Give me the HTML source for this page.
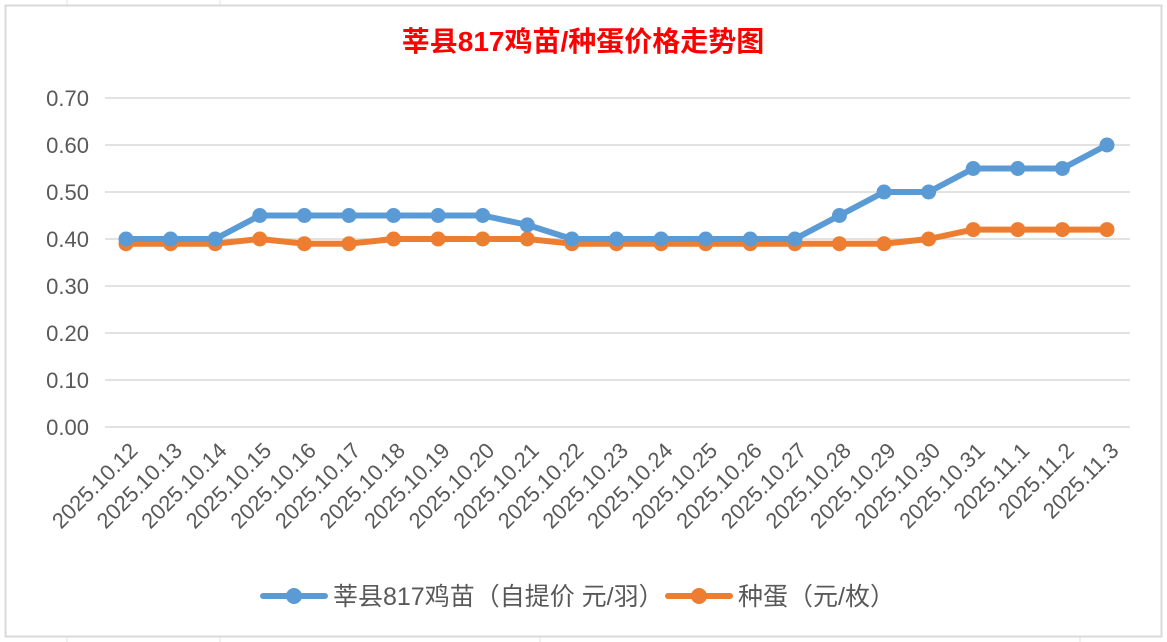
<!DOCTYPE html>
<html><head><meta charset="utf-8"><style>body{margin:0;background:#fff}svg{display:block}</style></head><body>
<svg width="1167" height="642" xmlns="http://www.w3.org/2000/svg" font-family="Liberation Sans, Noto Sans CJK SC, sans-serif">
<rect width="1167" height="642" fill="#fff"/>
<g stroke="#e2e2e2" stroke-width="1">
<line x1="67" y1="0" x2="67" y2="5"/><line x1="220" y1="0" x2="220" y2="5"/><line x1="67" y1="637" x2="67" y2="642"/><line x1="220" y1="637" x2="220" y2="642"/><line x1="540" y1="637" x2="540" y2="642"/><line x1="1080" y1="637" x2="1080" y2="642"/>
</g>
<rect x="5.5" y="5.5" width="1156" height="631" fill="#fff" stroke="#d9d9d9" stroke-width="2"/>
<text x="583" y="51" text-anchor="middle" fill="#ff0000" font-size="28" font-weight="bold">莘县817鸡苗/种蛋价格走势图</text>
<g id="grid" stroke="#d9d9d9" stroke-width="1.5"></g>
<g id="yl" fill="#595959" font-size="22" text-anchor="end"></g>
<g id="xl" fill="#595959" font-size="22" text-anchor="end"></g>
<g id="s"></g>
<g font-size="25" fill="#595959">
<line x1="263" y1="596" x2="325" y2="596" stroke="#5b9bd5" stroke-width="6" stroke-linecap="round"/>
<circle cx="294" cy="596" r="8" fill="#5b9bd5"/>
<text x="333" y="605">莘县817鸡苗（自提价 元/羽）</text>
<line x1="668" y1="596" x2="730" y2="596" stroke="#ed7d31" stroke-width="6" stroke-linecap="round"/>
<circle cx="699" cy="596" r="8" fill="#ed7d31"/>
<text x="738" y="605">种蛋（元/枚）</text>
</g>
<script>
var ns="http://www.w3.org/2000/svg";
function el(p,t,a,tx){var e=document.createElementNS(ns,t);for(var k in a)e.setAttribute(k,a[k]);if(tx)e.textContent=tx;document.getElementById(p).appendChild(e);}
function Y(v){return 427-v*470;}
for(var i=0;i<=7;i++){var y=Y(i/10);el("grid","line",{x1:105,x2:1130,y1:y,y2:y});el("yl","text",{x:89,y:y+8},(i/10).toFixed(2));}
var d=["2025.10.12","2025.10.13","2025.10.14","2025.10.15","2025.10.16","2025.10.17","2025.10.18","2025.10.19","2025.10.20","2025.10.21","2025.10.22","2025.10.23","2025.10.24","2025.10.25","2025.10.26","2025.10.27","2025.10.28","2025.10.29","2025.10.30","2025.10.31","2025.11.1","2025.11.2","2025.11.3"];
function X(i){return 126+i*(981/22);}
d.forEach(function(t,i){var x=X(i)+13,y=452;el("xl","text",{x:x,y:y,transform:"rotate(-45 "+x+" "+y+")"},t);});
var b=[.40,.40,.40,.45,.45,.45,.45,.45,.45,.43,.40,.40,.40,.40,.40,.40,.45,.50,.50,.55,.55,.55,.60];
var o=[.39,.39,.39,.40,.39,.39,.40,.40,.40,.40,.39,.39,.39,.39,.39,.39,.39,.39,.40,.42,.42,.42,.42];
[[o,"#ed7d31"],[b,"#5b9bd5"]].forEach(function(s){var p=s[0].map(function(v,i){return X(i)+","+Y(v);}).join(" ");
el("s","polyline",{points:p,fill:"none",stroke:s[1],"stroke-width":6,"stroke-linejoin":"round"});
s[0].forEach(function(v,i){el("s","circle",{cx:X(i),cy:Y(v),r:7.5,fill:s[1]});});});
</script>
</svg>
</body></html>
